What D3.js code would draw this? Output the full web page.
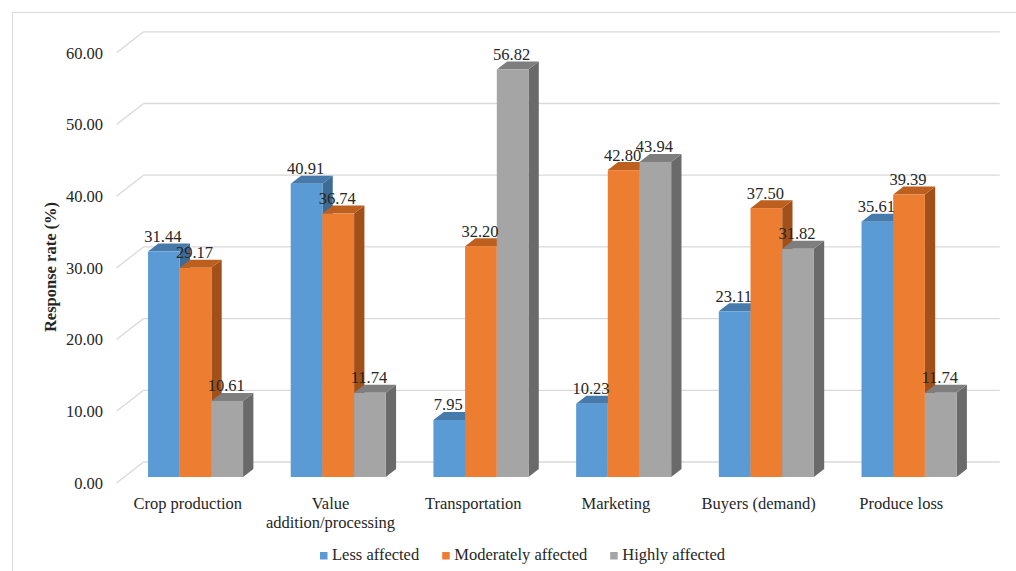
<!DOCTYPE html>
<html>
<head>
<meta charset="utf-8">
<script src="https://cdn.jsdelivr.net/npm/d3@7"></script>
<style>
  body { margin: 0; background: #fff; }
  svg { display: block; }
</style>
</head>
<body>
<svg id="chart" width="1016" height="571" font-family="'Liberation Serif', 'Tinos', 'Times New Roman', 'DejaVu Serif', serif"></svg>
<script>
// ---- data ----
const categories = ["Crop production", "Value addition/processing", "Transportation", "Marketing", "Buyers (demand)", "Produce loss"];
const seriesNames = ["Less affected", "Moderately affected", "Highly affected"];
const lessAffected = [31.44, 40.91, 7.95, 10.23, 23.11, 35.61];
const moderatelyAffected = [29.17, 36.74, 32.20, 42.80, 37.50, 39.39];
const highlyAffected = [10.61, 11.74, 56.82, 43.94, 31.82, 11.74];
const yTicks = [0, 10, 20, 30, 40, 50, 60];
const yTitle = "Response rate (%)";

const seriesValues = [lessAffected, moderatelyAffected, highlyAffected];

// ---- styles ----
const faceColors = [
  { front: "#5B9BD5", top: "#467AAB", side: "#3D6B96" },
  { front: "#ED7D31", top: "#BC5F1F", side: "#A2501A" },
  { front: "#A5A5A5", top: "#7E7E7E", side: "#6A6A6A" }
];
const fontSize = 16.5;
const textColor = "#262626";

// oblique depth projection: one unit of depth moves right and up
const slope = 1.29;
const off = d => [d * slope, -d];
const barDepth = 8, wallDepth = 15, floorFront = -6;

const svg = d3.select("#chart");

// outer frame
svg.append("rect")
  .attr("x", 12.5).attr("y", 12.5).attr("width", 1010).attr("height", 570)
  .attr("fill", "none").attr("stroke", "#D9D9D9").attr("stroke-width", 1);

// ---- scales ----
const y = d3.scaleLinear().domain([0, 60]).range([477, 46.8]);
const x = d3.scaleBand().domain(categories).range([124.2, 980.4])
  .paddingInner(0.334).paddingOuter(0.167);
const xs = d3.scaleBand().domain(seriesNames).range([0, x.bandwidth()]);

const [x0, x1] = x.range();

// ---- back wall gridlines and side diagonals ----
const grid = svg.append("g");
const [wdx, wdy] = off(wallDepth);
const [fdx, fdy] = off(floorFront);
yTicks.forEach(t => {
  grid.append("line")
    .attr("x1", x0 + wdx).attr("x2", x1 + wdx)
    .attr("y1", y(t) + wdy).attr("y2", y(t) + wdy)
    .attr("stroke", "#D9D9D9").attr("stroke-width", 1.3);
  grid.append("line")
    .attr("x1", x0 + fdx).attr("y1", y(t) + fdy)
    .attr("x2", x0 + wdx).attr("y2", y(t) + wdy)
    .attr("stroke", "#D9D9D9").attr("stroke-width", 1.3);
});

// tick labels
svg.append("g").selectAll("text").data(yTicks).join("text")
  .attr("x", 103).attr("y", d => y(d) + fdy)
  .attr("dy", "0.35em")
  .attr("text-anchor", "end")
  .attr("font-size", fontSize)
  .attr("fill", textColor)
  .text(d => d3.format(".2f")(d));

// axis title
svg.append("text")
  .attr("transform", "translate(56,267) rotate(-90)")
  .attr("text-anchor", "middle")
  .attr("font-size", 16.5)
  .attr("font-weight", "bold")
  .attr("fill", textColor)
  .text(yTitle);

// ---- 3D bars ----
const [bdx, bdy] = off(barDepth);
const bars = svg.append("g");
categories.forEach((cat, ci) => {
  seriesNames.forEach((s, si) => {
    const v = seriesValues[si][ci];
    const xl = x(cat) + xs(s), w = xs.bandwidth();
    const yt = y(v), yb = y(0);
    const c = faceColors[si];
    const g = bars.append("g");
    g.append("polygon")
      .attr("points", [[xl + w, yt], [xl + w + bdx, yt + bdy], [xl + w + bdx, yb + bdy], [xl + w, yb]].join(" "))
      .attr("fill", c.side);
    g.append("polygon")
      .attr("points", [[xl, yt], [xl + w, yt], [xl + w + bdx, yt + bdy], [xl + bdx, yt + bdy]].join(" "))
      .attr("fill", c.top);
    g.append("rect")
      .attr("x", xl).attr("y", yt).attr("width", w).attr("height", yb - yt)
      .attr("fill", c.front);
  });
});

// value labels
const labels = svg.append("g");
categories.forEach((cat, ci) => {
  seriesNames.forEach((s, si) => {
    const v = seriesValues[si][ci];
    labels.append("text")
      .attr("x", x(cat) + xs(s) + xs.bandwidth() / 2 - 1)
      .attr("y", y(v) - 9.5)
      .attr("text-anchor", "middle")
      .attr("font-size", fontSize)
      .attr("fill", textColor)
      .text(d3.format(".2f")(v));
  });
});

// category labels on the front edge of the floor, wrapped to the band step
const catG = svg.append("g");
categories.forEach(cat => {
  const cx = x(cat) + x.bandwidth() / 2 + fdx;
  const t = catG.append("text")
    .attr("x", cx).attr("y", 509)
    .attr("text-anchor", "middle")
    .attr("font-size", fontSize)
    .attr("fill", textColor);
  const words = cat.split(" ");
  let line = [];
  let tspan = t.append("tspan").attr("x", cx).attr("dy", 0);
  words.forEach(word => {
    line.push(word);
    tspan.text(line.join(" "));
    if (tspan.node().getComputedTextLength() > x.step() - 8 && line.length > 1) {
      line.pop();
      tspan.text(line.join(" "));
      line = [word];
      tspan = t.append("tspan").attr("x", cx).attr("dy", "1.18em").text(word);
    }
  });
});

// ---- legend ----
const legend = svg.append("g");
const marker = 7.5, gapText = 4.5, gapItem = 23;
let lx = 0;
seriesNames.forEach((s, si) => {
  const item = legend.append("g").attr("transform", `translate(${lx},0)`);
  item.append("rect")
    .attr("x", 0).attr("y", 552).attr("width", marker).attr("height", marker)
    .attr("fill", faceColors[si].front);
  const t = item.append("text")
    .attr("x", marker + gapText).attr("y", 560)
    .attr("font-size", fontSize)
    .attr("fill", textColor)
    .text(s);
  lx += marker + gapText + t.node().getComputedTextLength() + gapItem;
});
const legendWidth = lx - gapItem;
legend.attr("transform", `translate(${522.5 - legendWidth / 2},0)`);
</script>
</body>
</html>
